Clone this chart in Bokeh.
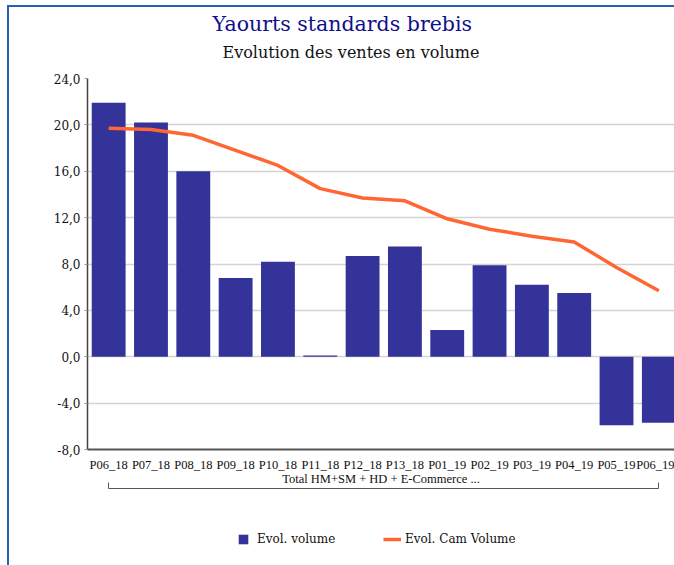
from bokeh.plotting import figure
from bokeh.layouts import column
from bokeh.models import (Range1d, FixedTicker, LinearAxis, Legend, LegendItem,
                          Title, ColumnDataSource)
from bokeh.embed import file_html
from bokeh.resources import INLINE

categories = ["P06_18", "P07_18", "P08_18", "P09_18", "P10_18", "P11_18", "P12_18",
              "P13_18", "P01_19", "P02_19", "P03_19", "P04_19", "P05_19", "P06_19"]
evol_volume = [21.9, 20.2, 16.0, 6.8, 8.2, 0.1, 8.7, 9.5, 2.3, 7.9, 6.2, 5.5, -5.9, -5.7]
evol_cam_volume = [19.7, 19.6, 19.1, 17.8, 16.5, 14.5, 13.7, 13.45, 11.9, 11.0, 10.4, 9.9, 7.7, 5.7]
y_ticks = [-8, -4, 0, 4, 8, 12, 16, 20, 24]
group_label = "Total HM+SM + HD + E-Commerce ..."
title_text = "Yaourts standards brebis"
subtitle_text = "Evolution des ventes en volume"
series_names = ["Evol. volume", "Evol. Cam Volume"]

idx = list(range(len(categories)))
src = ColumnDataSource(dict(x=idx, vol=evol_volume, cam=evol_cam_volume))

SERIF = "DejaVu Serif"
BAR = "#333399"
LINE = "#FF6633"
W = 665

p = figure(width=W, height=500, output_backend="svg", toolbar_location=None,
           x_range=Range1d(-0.5, 13.37), y_range=Range1d(-8, 24),
           title=None, x_axis_location=None, y_axis_location=None,
           min_border_left=78, min_border_right=0, min_border_top=71,
           min_border_bottom=58)
p.outline_line_color = None
p.background_fill_color = "white"
p.border_fill_color = "white"

# titles (first added = closest to plot)
p.add_layout(Title(text=subtitle_text, align="left", text_font=SERIF,
                   text_font_size="16px", text_font_style="normal",
                   text_color="#111111", offset=135, standoff=33), "above")
p.add_layout(Title(text=title_text, align="left", text_font=SERIF,
                   text_font_size="20.5px", text_font_style="normal",
                   text_color="#10108c", offset=125, standoff=-22), "above")

# y axis
yax = LinearAxis(ticker=FixedTicker(ticks=y_ticks),
                 major_label_overrides={t: f"{t:.1f}".replace(".", ",") for t in y_ticks})
yax.axis_line_color = "#444444"
yax.axis_line_width = 1.5
yax.major_tick_in = 0
yax.major_tick_out = 3
yax.major_tick_line_color = "#999999"
yax.minor_tick_line_color = None
yax.major_label_text_font = SERIF
yax.major_label_text_font_size = "12px"
yax.major_label_text_color = "#111111"
yax.major_label_standoff = 4
p.add_layout(yax, "left")

# x axis, with the group label as its axis label
xax = LinearAxis(ticker=FixedTicker(ticks=idx),
                 major_label_overrides={i: c for i, c in zip(idx, categories)})
xax.axis_line_color = "#555555"
xax.axis_line_width = 2
xax.major_tick_line_color = None
xax.minor_tick_line_color = None
xax.major_label_text_font = "Liberation Serif"
xax.major_label_text_font_size = "12.5px"
xax.major_label_text_color = "#111111"
xax.major_label_standoff = 2
xax.axis_label = group_label
xax.axis_label_text_font = "Liberation Serif"
xax.axis_label_text_font_size = "12.5px"
xax.axis_label_text_font_style = "normal"
xax.axis_label_text_color = "#111111"
xax.axis_label_standoff = -3
p.add_layout(xax, "below")

# group bracket
gax = LinearAxis(ticker=FixedTicker(ticks=[6.5], minor_ticks=[0, 13]), bounds=(0, 13),
                 major_label_overrides={6.5: ""})
gax.axis_line_color = "#555555"
gax.axis_line_width = 1
gax.major_tick_line_color = None
gax.minor_tick_line_color = "#555555"
gax.minor_tick_in = 6
gax.minor_tick_out = 0
gax.major_label_text_font_size = "1px"
gax.major_label_standoff = 0
p.add_layout(gax, "below")

# grid
p.xgrid.visible = False
p.ygrid.ticker = FixedTicker(ticks=y_ticks)
p.ygrid.grid_line_color = "#d4d4d4"
p.ygrid.grid_line_width = 1.5

bars = p.vbar(x="x", top="vol", width=0.8, source=src, fill_color=BAR, line_color=None)
line = p.line(x="x", y="cam", source=src, line_color=LINE, line_width=3.5)

# legend strip
q = figure(width=W, height=58, output_backend="svg", toolbar_location=None,
           x_range=Range1d(0, 1), y_range=Range1d(0, 1), title=None,
           x_axis_location=None, y_axis_location=None,
           min_border_left=0, min_border_right=0, min_border_top=0, min_border_bottom=0)
q.outline_line_color = None
q.xgrid.visible = False
q.ygrid.visible = False
bar_key = q.vbar(x=[5], top=[5], width=0.8, fill_color=BAR, line_color=None)
line_key = q.line(x=[5, 6], y=[5, 5], line_color=LINE, line_width=3.5)

leg_common = dict(orientation="horizontal", label_text_font=SERIF,
                  label_text_font_size="12px", label_text_color="#111111",
                  label_height=12, border_line_color=None, background_fill_alpha=0,
                  margin=0, padding=0)
leg1 = Legend(items=[LegendItem(label=series_names[0], renderers=[bar_key])],
              location=(150, 19), glyph_width=12, glyph_height=12,
              label_standoff=8, **leg_common)
leg2 = Legend(items=[LegendItem(label=series_names[1], renderers=[line_key])],
              location=(296, 19), glyph_width=18, glyph_height=12,
              label_standoff=4, **leg_common)
q.add_layout(leg1)
q.add_layout(leg2)

layout = column(p, q, spacing=0,
                styles={"margin-left": "7px", "margin-top": "5px",
                        "border-left": "2px solid #2563b0",
                        "border-top": "2px solid #2563b0"})

open("out.html", "w").write(file_html(layout, INLINE))
